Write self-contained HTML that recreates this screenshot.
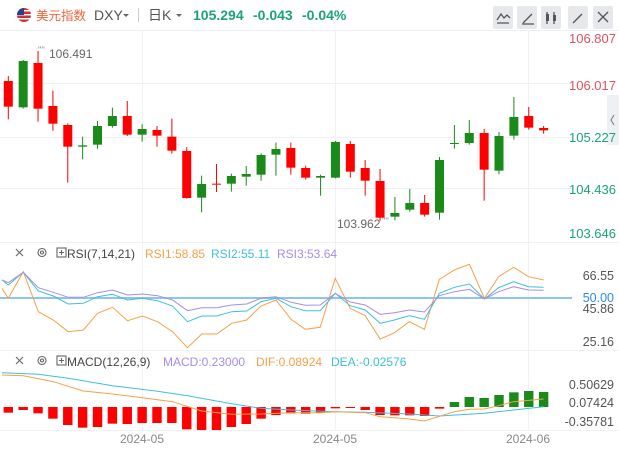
<!DOCTYPE html>
<html><head><meta charset="utf-8"><style>
body{margin:0;width:619px;height:450px;background:#fff;overflow:hidden;font-family:"Liberation Sans","Noto Sans CJK SC",sans-serif;}
svg{display:block}
</style></head><body>
<svg id="s" width="619" height="450" xmlns="http://www.w3.org/2000/svg" font-family="Liberation Sans, Noto Sans CJK SC, sans-serif">
<rect width="619" height="450" fill="#fff"/>
<circle cx="24" cy="15" r="7" fill="#c33"/>
<rect x="17" y="10" width="14" height="1.5" fill="#fff"/><rect x="17" y="14" width="14" height="1.5" fill="#fff"/><rect x="17" y="18" width="14" height="1.5" fill="#fff"/>
<path d="M17 15 A7 7 0 0 1 24 8 L24 15Z" fill="#2b3f8c"/>
<text x="36" y="20" font-size="12.5" fill="#f0623a">美元指数</text>
<text x="94" y="20" font-size="14" fill="#555">DXY</text>
<path d="M123 14l3 3 3-3z" fill="#666"/>
<rect x="138" y="8" width="1" height="14" fill="#ccc"/>
<text x="148" y="20" font-size="14" fill="#555">日K</text>
<path d="M176 14l3 3 3-3z" fill="#666"/>
<text x="193" y="20" font-size="14" font-weight="bold" fill="#1aa37a">105.294</text>
<text x="253" y="20" font-size="14" font-weight="bold" fill="#1aa37a">-0.043</text>
<text x="302" y="20" font-size="14" font-weight="bold" fill="#1aa37a">-0.04%</text>
<g fill="#e6e8ec"><rect x="493" y="6" width="20" height="23" rx="2"/><rect x="517" y="6" width="20" height="23" rx="2"/><rect x="541" y="6" width="20" height="23" rx="2"/><rect x="568" y="6" width="20" height="23" rx="2"/><rect x="593" y="6" width="20" height="23" rx="2"/></g>
<g stroke="#555" stroke-width="1.3" fill="none"><path d="M497 20l4-6 3 4 3-3 3 3M497 23h12"/><path d="M523 23l9-9M522 24h12"/><path d="M547 12v12M554 12v12"/><path d="M573 23l9-9"/><path d="M598 12l10 10M608 12l-10 10"/></g>
<rect x="546" y="14" width="3" height="7" fill="#555"/><rect x="553" y="15" width="3" height="6" fill="#555"/>
<rect x="0" y="30" width="619" height="1" fill="#eee"/>
<g fill="#f0f1f3"><rect x="142" y="31" width="1" height="399"/><rect x="335" y="31" width="1" height="399"/><rect x="528" y="31" width="1" height="399"/>
<rect x="0" y="83" width="572" height="1"/><rect x="0" y="137" width="572" height="1"/><rect x="0" y="188" width="572" height="1"/>
<rect x="0" y="242" width="619" height="1"/><rect x="0" y="350" width="619" height="1"/><rect x="0" y="430" width="619" height="1"/></g>
<rect x="607" y="95" width="12" height="50" fill="#eef0f3"/>
<path d="M614 115l-3 5 3 5" stroke="#777" fill="none"/>
<g font-size="13" text-anchor="end">
<text x="616" y="43" fill="#e0525c">106.807</text><text x="616" y="90" fill="#e0525c">106.017</text>
<text x="616" y="142" fill="#1aa37a">105.227</text><text x="616" y="194" fill="#1aa37a">104.436</text><text x="616" y="238" fill="#1aa37a">103.646</text>
</g>
<text x="49" y="58" font-size="12" fill="#666">106.491</text><text x="38" y="53" font-size="9" fill="#888">''''</text>
<text x="337" y="228" font-size="12" fill="#666">103.962</text><text x="382" y="224" font-size="9" fill="#888">''''</text>
<g id="cand"></g>
<g stroke="#666" stroke-width="1.1" fill="none"><path d="M16 249l7 7M23 249l-7 7"/><circle cx="42" cy="252.5" r="4"/><circle cx="42" cy="252.5" r="1.5"/><rect x="57" y="248" width="9" height="9"/><path d="M61.5 250v5M59 252.5h5"/>
<path d="M16 357l7 7M23 357l-7 7"/><circle cx="42" cy="360.5" r="4"/><circle cx="42" cy="360.5" r="1.5"/><rect x="57" y="356" width="9" height="9"/><path d="M61.5 358v5M59 360.5h5"/></g>
<g font-size="12"><text x="67" y="258" fill="#444">RSI(7,14,21)</text><text x="145" y="258" fill="#f5a04a">RSI1:58.85</text><text x="211" y="258" fill="#3ec0d8">RSI2:55.11</text><text x="277" y="258" fill="#a88ce8">RSI3:53.64</text>
<text x="67" y="366" fill="#444">MACD(12,26,9)</text><text x="163" y="366" fill="#a88ce8">MACD:0.23000</text><text x="256" y="366" fill="#f5a04a">DIF:0.08924</text><text x="331" y="366" fill="#3ec0d8">DEA:-0.02576</text></g>
<rect x="0" y="297" width="572" height="2" fill="#8cc4f5"/>
<g font-size="12.5" text-anchor="end" fill="#555"><text x="614" y="280">66.55</text><text x="614" y="302" fill="#2a8af0">50.00</text><text x="614" y="313">45.86</text><text x="614" y="346">25.16</text>
<text x="614" y="389">0.50629</text><text x="614" y="407">0.07424</text><text x="614" y="426">-0.35781</text></g>
<g font-size="12" fill="#888" text-anchor="middle"><text x="142" y="443">2024-05</text><text x="335" y="443">2024-05</text><text x="528" y="443">2024-06</text></g>
<g id="ind"></g>
</svg>
<script>
var NS="http://www.w3.org/2000/svg";
function el(p,t,a){var e=document.createElementNS(NS,t);for(var k in a)e.setAttribute(k,a[k]);p.appendChild(e);return e;}
var c=[["R",243,320,228,358],["G",183,322,180,326],["R",189,326,153,365],["R",318,371,272,392],["R",375,440,370,548],["G",436,440,410,478],["G",378,434,363,446],["G",348,378,323,383],["R",348,404,303,408],["G",387,404,373,425],["R",390,407,378,440],["R",410,452,356,461],["R",453,594,441,596],["G",552,593,527,637],["R",551,553,492,576],["G",528,551,521,575],["G",522,530,498,557],["G",465,524,460,542],["G",447,464,428,527],["R",444,503,428,524],["R",504,533,497,539],["G",528,533,524,587],["G",426,533,423,535],["R",432,515,423,533],["R",504,542,480,587],["R",543,653,507,662],["G",639,650,591,661],["G",609,629,567,635],["R",609,644,585,650],["G",480,638,471,659],["G",429,431,375,446],["G",399,429,360,434],["R",399,509,387,602],["G",408,512,396,523],["G",351,407,291,419],["R",348,383,321,389],["R",384,391,378,401]];
var g=document.getElementById("cand");
function X(i){return 8.3+i*14.87;}
c.forEach(function(d,i){var col=d[0]=="R"?"#f00":"#1a8a1a";var x=X(i);
el(g,"rect",{x:x-0.5,y:d[3]/3,width:1,height:(d[4]-d[3])/3,fill:col});
el(g,"rect",{x:x-4.5,y:d[1]/3,width:9,height:Math.max(1,(d[2]-d[1])/3),fill:col});});
var gi=document.getElementById("ind");
var xs=[21,59,97,135,173,211,247,285,323,361,399,437,475,511,549,587,625,661,699,737,773,811,849,887,925,963,999,1037,1075,1113,1151,1189,1227,1263,1301,1339,1377];
function line(pts,col){var s="";pts.forEach(function(p,i){s+=(i?"L":"M")+(p[0]/2.533).toFixed(1)+" "+(230+p[1]/3).toFixed(1);});el(gi,"path",{d:s,stroke:col,fill:"none","stroke-width":1});}
function ser(v,first){var p=[[5,first]];v.forEach(function(y,i){p.push([xs[i],y]);});return p;}
line(ser([205,125,245,270,305,300,250,232,272,258,275,305,353,312,312,280,270,228,210,268,298,292,145,235,257,327,308,275,298,148,120,103,205,140,112,140,150],175),"#f5a04a");
line(ser([165,127,183,198,222,220,200,193,210,205,212,228,275,258,258,245,243,215,205,230,242,242,190,227,240,280,270,257,268,190,172,162,207,173,155,170,172],150),"#3ec0d8");
line(ser([158,127,173,187,202,202,188,180,195,192,197,210,242,233,233,225,222,205,200,217,226,225,190,216,225,253,248,240,246,197,185,178,207,185,170,180,181],150),"#a88ce8");
var h=[548,540,550,566,585,593,591,581,582,579,579,579,598,600,600,591,582,566,555,550,551,548,535,534,540,555,556,556,558,536,516,501,504,495,487,483,486];
h.forEach(function(v,i){var x=X(i);var y0=531/3+230,y1=v/3+230;var col=i>=30?"#1a8a1a":"#f00";
el(gi,"rect",{x:x-4.7,y:Math.min(y0,y1),width:9.4,height:Math.max(1,Math.abs(y1-y0)),fill:col});});
line([[5,428],[97,433],[173,445],[285,467],[399,484],[475,497],[587,521],[661,535],[737,540],[849,545],[925,547],[1037,552],[1113,558],[1227,550],[1301,540],[1377,530]],"#3ec0d8");
line([[5,435],[59,437],[135,455],[211,483],[285,492],[361,503],[437,515],[511,543],[587,553],[661,552],[737,548],[811,548],[849,545],[925,548],[963,560],[1037,567],[1075,573],[1151,545],[1189,538],[1227,537],[1263,527],[1301,515],[1377,507]],"#f5a04a");
</script>
</body></html>
